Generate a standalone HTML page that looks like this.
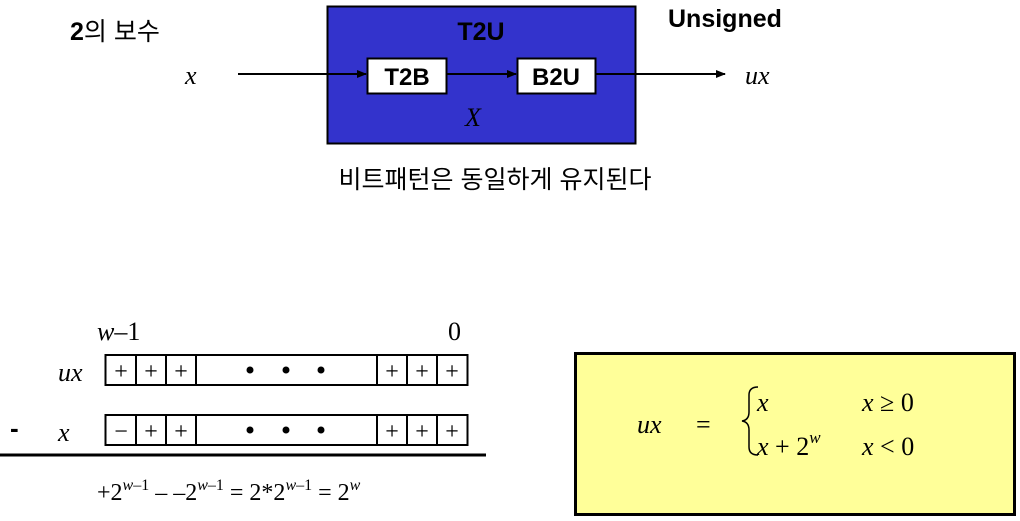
<!DOCTYPE html>
<html><head><meta charset="utf-8"><style>body{margin:0;background:#fff}svg{display:block}</style></head><body>
<svg width="1020" height="521" xmlns="http://www.w3.org/2000/svg">
<defs><marker id="a" markerWidth="10" markerHeight="8" refX="9" refY="4" orient="auto" markerUnits="userSpaceOnUse"><path d="M0,0 L10,4 L0,8z" fill="#000"/></marker></defs>
<text x="70" y="40" font-family="Liberation Sans, Noto Sans CJK KR, sans-serif" font-size="25"><tspan font-weight="bold">2</tspan>의 보수</text>
<rect x="327.5" y="6.5" width="308" height="137" fill="#3333cc" stroke="#000" stroke-width="2"/>
<text x="481" y="40" text-anchor="middle" font-family="Liberation Sans, sans-serif" font-weight="bold" font-size="25">T2U</text>
<text x="668" y="27" font-family="Liberation Sans, sans-serif" font-weight="bold" font-size="25">Unsigned</text>
<line x1="238" y1="74" x2="366" y2="74" stroke="#000" stroke-width="2" marker-end="url(#a)"/>
<line x1="447" y1="74" x2="516" y2="74" stroke="#000" stroke-width="2" marker-end="url(#a)"/>
<line x1="596" y1="74" x2="725" y2="74" stroke="#000" stroke-width="2" marker-end="url(#a)"/>
<rect x="367.5" y="58.5" width="79" height="35" fill="#fff" stroke="#000" stroke-width="2"/>
<rect x="517.5" y="58.5" width="78" height="35" fill="#fff" stroke="#000" stroke-width="2"/>
<text x="407" y="85" text-anchor="middle" font-family="Liberation Sans, sans-serif" font-weight="bold" font-size="24">T2B</text>
<text x="556" y="85" text-anchor="middle" font-family="Liberation Sans, sans-serif" font-weight="bold" font-size="24">B2U</text>
<g font-family="Liberation Serif, serif" font-style="italic" font-size="26">
<text x="185" y="84">x</text><text x="745" y="84">ux</text><text x="465" y="126">X</text></g>
<text x="495" y="188" text-anchor="middle" font-family="Liberation Sans, Noto Sans CJK KR, sans-serif" font-size="25">비트패턴은 동일하게 유지된다</text>
<g font-family="Liberation Serif, serif" font-size="26">
<text x="97" y="340"><tspan font-style="italic">w</tspan>–1</text><text x="448" y="340">0</text>
<text x="58" y="381" font-style="italic">ux</text><text x="58" y="441" font-style="italic">x</text>
<text x="10" y="437" font-family="Liberation Sans, sans-serif" font-weight="bold">-</text>
</g>
<g stroke="#000" stroke-width="2" fill="none">
<rect x="105.5" y="355" width="362" height="30"/><rect x="105.5" y="415" width="362" height="30"/>
<path d="M136 355v30M166 355v30M196 355v30M377 355v30M407 355v30M437 355v30M136 415v30M166 415v30M196 415v30M377 415v30M407 415v30M437 415v30"/>
<line x1="0" y1="455" x2="486" y2="455" stroke-width="3"/>
</g>
<g font-family="Liberation Serif, serif" font-size="24" text-anchor="middle">
<text x="121" y="379">+</text><text x="151" y="379">+</text><text x="181" y="379">+</text><text x="392" y="379">+</text><text x="422" y="379">+</text><text x="452" y="379">+</text>
<text x="121" y="439">−</text><text x="151" y="439">+</text><text x="181" y="439">+</text><text x="392" y="439">+</text><text x="422" y="439">+</text><text x="452" y="439">+</text>
</g>
<g fill="#000"><circle cx="250" cy="370" r="3.5"/><circle cx="286" cy="370" r="3.5"/><circle cx="321" cy="370" r="3.5"/><circle cx="250" cy="430" r="3.5"/><circle cx="286" cy="430" r="3.5"/><circle cx="321" cy="430" r="3.5"/></g>
<text x="97" y="500" font-family="Liberation Serif, serif" font-size="24">+2<tspan font-size="16" dy="-10" font-style="italic">w</tspan><tspan font-size="16">–1</tspan><tspan dy="10"> –  –2</tspan><tspan font-size="16" dy="-10" font-style="italic">w</tspan><tspan font-size="16">–1</tspan><tspan dy="10">  =  2*2</tspan><tspan font-size="16" dy="-10" font-style="italic">w</tspan><tspan font-size="16">–1</tspan><tspan dy="10">  =  2</tspan><tspan font-size="16" dy="-10" font-style="italic">w</tspan></text>
<rect x="575.5" y="353.5" width="439" height="161" fill="#ffff99" stroke="#000" stroke-width="3"/>
<g font-family="Liberation Serif, serif" font-size="26">
<text x="637" y="433" font-style="italic">ux</text><text x="696" y="433">=</text>
<path d="M758 387 q-9 0 -9 8 v17 q0 8 -7 9 q7 1 7 9 v17 q0 8 9 8" fill="none" stroke="#000" stroke-width="1.5"/>
<text x="757" y="411" font-style="italic">x</text>
<text x="757" y="455"><tspan font-style="italic">x</tspan> + 2<tspan font-size="17" dy="-12" font-style="italic">w</tspan></text>
<text x="862" y="411"><tspan font-style="italic">x</tspan> ≥ 0</text>
<text x="862" y="455"><tspan font-style="italic">x</tspan> &lt; 0</text>
</g>
</svg>
</body></html>
